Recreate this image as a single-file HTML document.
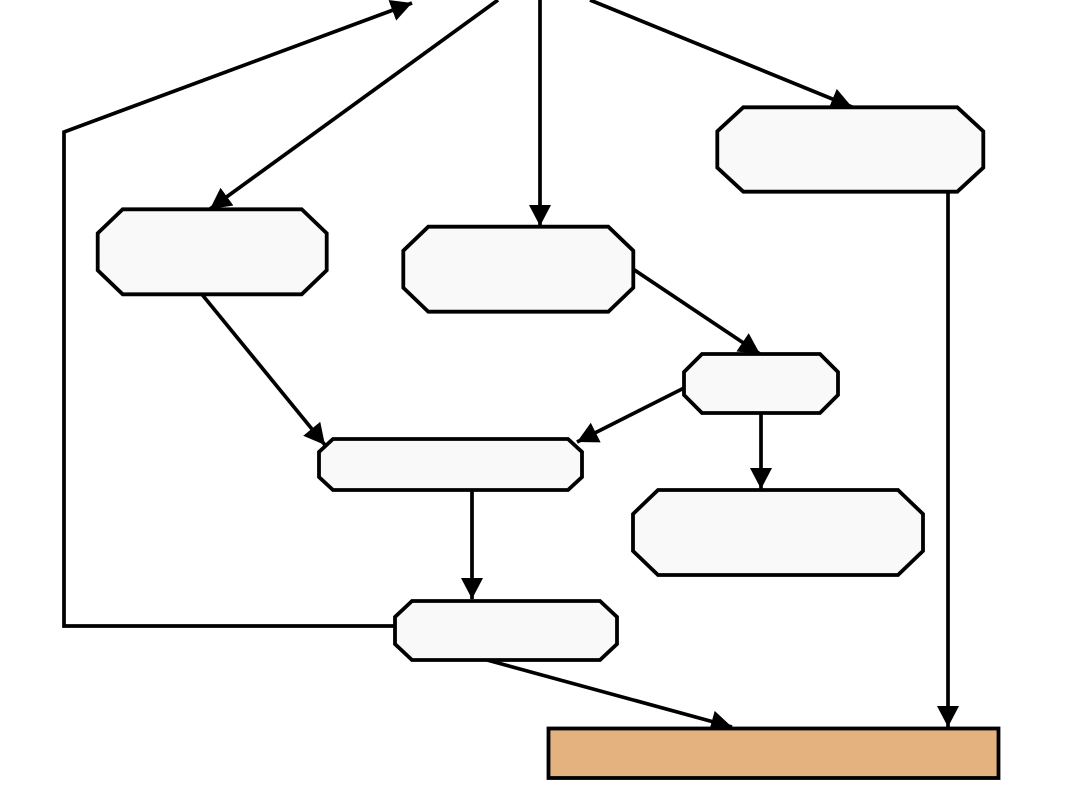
<!DOCTYPE html>
<html><head><meta charset="utf-8"><style>
html,body{margin:0;padding:0;background:#fff;}
svg{display:block;}
</style></head><body>
<svg width="1080" height="810" viewBox="0 0 1080 810" xmlns="http://www.w3.org/2000/svg">
<defs>
<marker id="ah" viewBox="0 0 21 22" refX="21" refY="11" markerWidth="21" markerHeight="22" markerUnits="userSpaceOnUse" orient="auto">
<path d="M0,0 L21,11 L0,22 z" fill="#000"/>
</marker>
</defs>
<g fill="none" stroke="#000" stroke-width="3.7" stroke-linejoin="miter">
<polyline points="395,626 64,626 64,132 412,3" marker-end="url(#ah)"/>
<line x1="498" y1="0" x2="210" y2="209" marker-end="url(#ah)"/>
<line x1="540" y1="0" x2="540" y2="226" marker-end="url(#ah)"/>
<line x1="590" y1="0" x2="852" y2="107" marker-end="url(#ah)"/>
<line x1="633" y1="269" x2="760" y2="354" marker-end="url(#ah)"/>
<line x1="686" y1="387" x2="577" y2="442" marker-end="url(#ah)"/>
<line x1="200" y1="292" x2="325" y2="445" marker-end="url(#ah)"/>
<line x1="761" y1="413" x2="761" y2="489" marker-end="url(#ah)"/>
<line x1="472" y1="490" x2="472" y2="599" marker-end="url(#ah)"/>
<line x1="487" y1="660" x2="732" y2="727" marker-end="url(#ah)"/>
<line x1="948" y1="192" x2="948" y2="727" marker-end="url(#ah)"/>
</g>
<g fill="#f9f9f9" stroke="#000" stroke-width="3.8">
<polygon points="122.7,209.3 301.7,209.3 326.7,233.3 326.7,270.3 301.7,294.3 122.7,294.3 97.7,270.3 97.7,233.3"/>
<polygon points="428.3,226.7 608.3,226.7 633.3,250.7 633.3,287.7 608.3,311.7 428.3,311.7 403.3,287.7 403.3,250.7"/>
<polygon points="743.3,107.3 957.3,107.3 983.3,131.3 983.3,167.7 957.3,191.7 743.3,191.7 717.3,167.7 717.3,131.3"/>
<polygon points="702,354 820,354 838,372 838,395 820,413 702,413 684,395 684,372"/>
<polygon points="333,439 568,439 582,452 582,477 568,490 333,490 319,477 319,452"/>
<polygon points="658,490 898,490 923,514 923,551 898,575 658,575 633,551 633,514"/>
<polygon points="412,601 600,601 617,617 617,644 600,660 412,660 395,644 395,617"/>
</g>
<rect x="548.5" y="728.5" width="450" height="49.5" fill="#e3b27e" stroke="#000" stroke-width="3.8"/>
</svg>
</body></html>
